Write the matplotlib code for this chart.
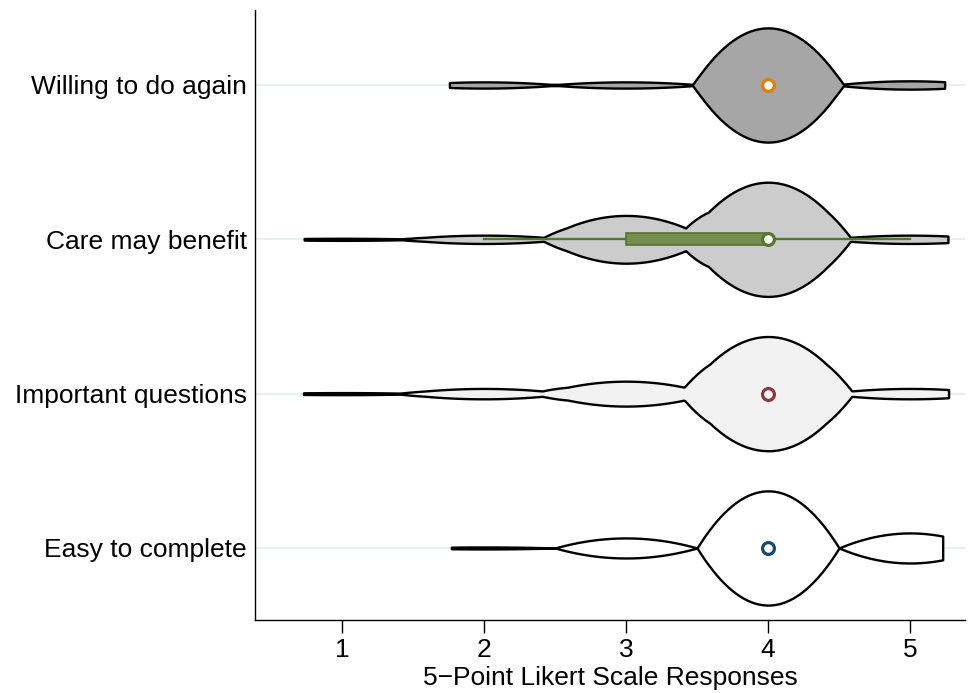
import numpy as np
import matplotlib
matplotlib.use("Agg")
import matplotlib.pyplot as plt

plt.rcParams['font.family'] = ['Liberation Sans', 'DejaVu Sans']

# number of answers for each score 1..5
scores = np.array([1, 2, 3, 4, 5])
easy = [0, 1, 10, 57, 15]
important = [1, 5, 12, 55, 5]
care = [1, 4, 23, 55, 4]
willing = [0, 3, 3, 55, 4]

labels = ["Easy to complete", "Important questions", "Care may benefit", "Willing to do again"]
counts = [easy, important, care, willing]
bandwidth = [0.5, 0.59, 0.58, 0.53]   # epanechnikov half support
fills = ["#FFFFFF", "#F2F2F2", "#CCCCCC", "#A6A6A6"]
accents = ["#1A476F", "#90353B", "#55752F", "#E37E00"]
box_fill = "#768E50"


def epan_kde(data, s, grid):
    u = (grid[:, None] - data[None, :]) / s
    return np.clip(1 - u**2, 0, None).sum(axis=1)


positions = np.arange(1, len(labels) + 1)
stats = []
for c, s in zip(counts, bandwidth):
    data = np.repeat(scores, c).astype(float)
    pad = 0.46 * s
    grid = np.linspace(data.min() - pad, data.max() + pad, 600)
    stats.append(dict(coords=grid, vals=epan_kde(data, s, grid),
                      mean=data.mean(), median=np.median(data),
                      min=data.min(), max=data.max()))

fig = plt.figure(figsize=(9.71, 6.93), dpi=100)
ax = fig.add_axes([0.2626, 0.1053, 0.7312, 0.8803])

parts = ax.violin(stats, positions=positions, orientation='horizontal', widths=0.74,
                  showmeans=False, showextrema=False, showmedians=False)
for body, fc in zip(parts['bodies'], fills):
    body.set_facecolor(fc)
    body.set_edgecolor('black')
    body.set_linewidth(1.7)
    body.set_alpha(1)
    body.set_zorder(2)

for pos, c, col in zip(positions, counts, accents):
    data = np.repeat(scores, c).astype(float)
    q1, med, q3 = np.percentile(data, [25, 50, 75])
    iqr = q3 - q1
    lo = data[data >= q1 - 1.5 * iqr].min()
    hi = data[data <= q3 + 1.5 * iqr].max()
    ax.plot([lo, hi], [pos, pos], color=col, lw=1.7, zorder=3)
    if q3 > q1:
        ax.barh(pos, q3 - q1, left=q1, height=0.078, color=box_fill,
                edgecolor=col, linewidth=1.2, zorder=4)
    ax.plot(med, pos, 'o', ms=8.5, mfc='white', mec=col, mew=2.3, zorder=5)

ax.set_xlim(0.387, 5.387)
ax.set_ylim(0.533, 4.486)
ax.set_xticks(scores)
ax.set_yticks(positions)
ax.set_yticklabels(labels)
ax.yaxis.grid(True, color='#E6EFF1', lw=1.5)
ax.set_axisbelow(True)

for side in ['top', 'right']:
    ax.spines[side].set_visible(False)
for side in ['left', 'bottom']:
    ax.spines[side].set_linewidth(1.0)

ax.tick_params(axis='y', length=0, pad=6, labelsize=19)
ax.tick_params(axis='x', length=9, width=1, pad=4, labelsize=19)
ax.set_xlabel("5\u2212Point Likert Scale Responses", fontsize=19, labelpad=3)

fig.savefig("out.png", dpi=100)
